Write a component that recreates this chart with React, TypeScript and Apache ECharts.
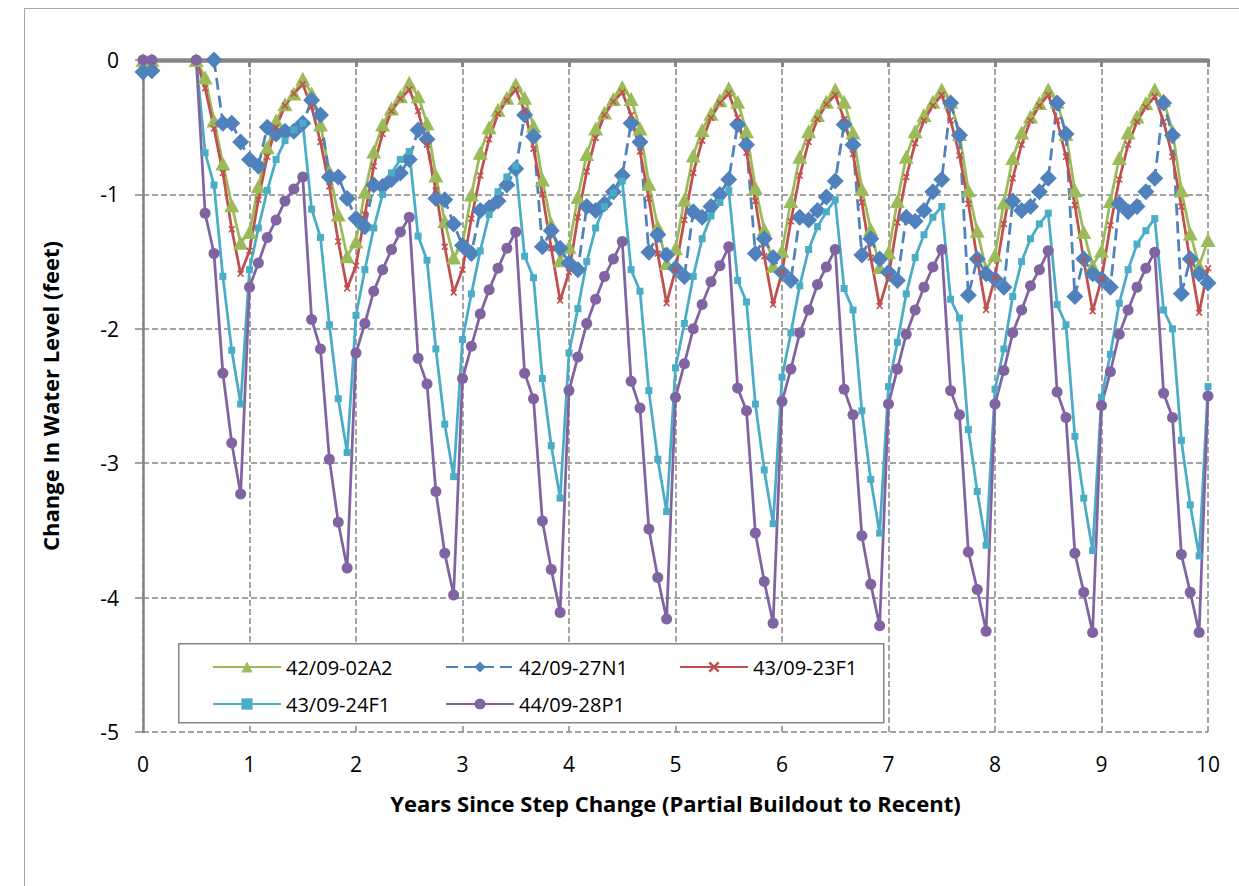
import React, { useEffect, useRef } from "react";
import * as echarts from "echarts";

// x positions are monthly samples: index i -> i/12 years
const MONTHS_PER_YEAR = 12;

const seriesNames = ["42/09-02A2", "42/09-27N1", "43/09-23F1", "43/09-24F1", "44/09-28P1"];

const xTicks = [0, 1, 2, 3, 4, 5, 6, 7, 8, 9, 10];
const yTicks = [-5, -4, -3, -2, -1, 0];

const green02A2: (number | null)[] = [
  0, 0, null, null, null, null, 0, -0.13, -0.45, -0.77, -1.08, -1.36,
  -1.28, -0.94, -0.65, -0.45, -0.33, -0.25, -0.14, -0.25, -0.48, -0.83, -1.15, -1.46,
  -1.35, -0.98, -0.68, -0.48, -0.36, -0.27, -0.17, -0.27, -0.47, -0.86, -1.2, -1.47,
  -1.37, -1.0, -0.69, -0.5, -0.37, -0.28, -0.18, -0.28, -0.49, -0.89, -1.22, -1.49,
  -1.39, -1.02, -0.7, -0.51, -0.39, -0.29, -0.2, -0.29, -0.51, -0.92, -1.24, -1.51,
  -1.4, -1.04, -0.71, -0.52, -0.4, -0.3, -0.21, -0.31, -0.53, -0.95, -1.26, -1.53,
  -1.42, -1.05, -0.72, -0.53, -0.41, -0.31, -0.22, -0.31, -0.54, -0.96, -1.26, -1.54,
  -1.43, -1.05, -0.72, -0.53, -0.41, -0.31, -0.22, -0.31, -0.55, -0.97, -1.27, -1.56,
  -1.45, -1.06, -0.73, -0.54, -0.42, -0.32, -0.22, -0.31, -0.55, -0.97, -1.28, -1.53,
  -1.42, -1.05, -0.73, -0.54, -0.42, -0.32, -0.22, -0.3, -0.53, -0.97, -1.29, -1.53,
  -1.34,
];

const blue27N1: (number | null)[] = [
  -0.09, -0.08, null, null, null, null, null, null, 0, -0.47, -0.47, -0.61,
  -0.74, -0.79, -0.5, -0.55, -0.53, -0.53, -0.47, -0.3, -0.41, -0.87, -0.87, -1.03,
  -1.18, -1.24, -0.93, -0.94, -0.89, -0.84, -0.74, -0.52, -0.59, -1.03, -1.04, -1.22,
  -1.38, -1.44, -1.12, -1.1, -1.05, -0.93, -0.81, -0.41, -0.57, -1.39, -1.27, -1.4,
  -1.51, -1.56, -1.09, -1.12, -1.07, -0.98, -0.86, -0.47, -0.61, -1.43, -1.3, -1.45,
  -1.55, -1.61, -1.13, -1.17, -1.09, -1.0, -0.89, -0.48, -0.63, -1.44, -1.33, -1.47,
  -1.58, -1.64, -1.17, -1.19, -1.12, -1.02, -0.9, -0.48, -0.63, -1.45, -1.33, -1.48,
  -1.58, -1.64, -1.17, -1.2, -1.12, -0.98, -0.89, -0.32, -0.56, -1.75, -1.48, -1.59,
  -1.63, -1.69, -1.05, -1.12, -1.09, -0.98, -0.88, -0.32, -0.55, -1.76, -1.48, -1.59,
  -1.63, -1.69, -1.07, -1.13, -1.09, -0.98, -0.88, -0.32, -0.56, -1.74, -1.48, -1.59,
  -1.66,
];

const red23F1: (number | null)[] = [
  null, null, null, null, null, null, 0, -0.21, -0.51, -0.84, -1.26, -1.59,
  -1.42, -1.04, -0.72, -0.5, -0.34, -0.25, -0.18, -0.35, -0.61, -0.94, -1.35, -1.7,
  -1.53, -1.15, -0.79, -0.55, -0.38, -0.29, -0.22, -0.38, -0.63, -0.97, -1.39, -1.73,
  -1.56, -1.18, -0.86, -0.59, -0.4, -0.3, -0.22, -0.38, -0.66, -1.0, -1.4, -1.79,
  -1.58, -1.17, -0.83, -0.58, -0.41, -0.31, -0.24, -0.41, -0.68, -1.03, -1.44, -1.81,
  -1.56, -1.19, -0.84, -0.6, -0.43, -0.32, -0.25, -0.43, -0.69, -1.05, -1.46, -1.82,
  -1.58, -1.2, -0.86, -0.61, -0.44, -0.33, -0.26, -0.44, -0.7, -1.06, -1.47, -1.83,
  -1.61, -1.21, -0.87, -0.62, -0.45, -0.34, -0.26, -0.45, -0.71, -1.07, -1.48, -1.86,
  -1.62, -1.22, -0.88, -0.63, -0.45, -0.34, -0.26, -0.45, -0.72, -1.08, -1.49, -1.87,
  -1.63, -1.23, -0.89, -0.63, -0.46, -0.35, -0.27, -0.46, -0.72, -1.09, -1.5, -1.88,
  -1.55,
];

const teal24F1: (number | null)[] = [
  null, null, null, null, null, null, 0, -0.69, -0.93, -1.61, -2.16, -2.56,
  -1.56, -1.25, -0.97, -0.74, -0.6, -0.52, -0.47, -1.11, -1.32, -1.97, -2.52, -2.92,
  -1.9, -1.56, -1.25, -1.0, -0.84, -0.74, -0.68, -1.31, -1.49, -2.15, -2.71, -3.1,
  -2.08, -1.74, -1.42, -1.15, -0.98, -0.87, -0.79, -1.46, -1.62, -2.37, -2.87, -3.26,
  -2.18, -1.85, -1.5, -1.25, -1.09, -0.99, -0.9, -1.56, -1.72, -2.46, -2.97, -3.36,
  -2.29, -1.96, -1.61, -1.33, -1.16, -1.06, -0.97, -1.64, -1.8, -2.56, -3.05, -3.45,
  -2.36, -2.03, -1.68, -1.41, -1.24, -1.13, -1.04, -1.7, -1.86, -2.61, -3.12, -3.52,
  -2.43, -2.1, -1.74, -1.47, -1.3, -1.17, -1.09, -1.78, -1.92, -2.75, -3.21, -3.61,
  -2.45, -2.15, -1.76, -1.5, -1.33, -1.22, -1.14, -1.82, -1.97, -2.8, -3.26, -3.65,
  -2.51, -2.19, -1.81, -1.56, -1.37, -1.27, -1.18, -1.86, -2.0, -2.83, -3.31, -3.69,
  -2.43,
];

const purple28P1: (number | null)[] = [
  0, 0, null, null, null, null, 0, -1.14, -1.44, -2.33, -2.85, -3.23,
  -1.69, -1.51, -1.32, -1.19, -1.05, -0.96, -0.87, -1.93, -2.15, -2.97, -3.44, -3.78,
  -2.18, -1.96, -1.72, -1.56, -1.41, -1.28, -1.17, -2.22, -2.41, -3.21, -3.67, -3.98,
  -2.37, -2.13, -1.89, -1.71, -1.55, -1.4, -1.28, -2.33, -2.52, -3.43, -3.79, -4.11,
  -2.46, -2.21, -1.96, -1.78, -1.61, -1.48, -1.35, -2.39, -2.59, -3.49, -3.85, -4.16,
  -2.51, -2.26, -2.0, -1.82, -1.65, -1.53, -1.39, -2.44, -2.61, -3.52, -3.88, -4.19,
  -2.54, -2.3, -2.03, -1.86, -1.67, -1.54, -1.41, -2.45, -2.64, -3.54, -3.9, -4.21,
  -2.56, -2.3, -2.04, -1.86, -1.69, -1.54, -1.41, -2.46, -2.64, -3.66, -3.94, -4.25,
  -2.56, -2.31, -2.03, -1.86, -1.68, -1.56, -1.42, -2.47, -2.66, -3.67, -3.96, -4.26,
  -2.57, -2.32, -2.04, -1.86, -1.69, -1.55, -1.43, -2.48, -2.66, -3.68, -3.96, -4.26,
  -2.5,
];

const FONT = "'Open Sans', Lato, 'Liberation Sans', sans-serif";
const GRAY = "#868686";

const toPairs = (vals: (number | null)[]) =>
  vals.map((v, i) => [i / MONTHS_PER_YEAR, v === null ? null : v]);

const X_SYMBOL =
  "path://M0,1.6L1.6,0L5,3.4L8.4,0L10,1.6L6.6,5L10,8.4L8.4,10L5,6.6L1.6,10L0,8.4L3.4,5Z";

export default function App() {
  const ref = useRef<HTMLDivElement>(null);

  useEffect(() => {
    if (!ref.current) return;
    const chart = echarts.init(ref.current, undefined, { renderer: "svg" });

    const mk = (
      name: string,
      vals: (number | null)[],
      color: string,
      symbol: string,
      symbolSize: number | number[],
      dashed = false
    ) => ({
      name,
      type: "line",
      data: toPairs(vals),
      xAxisIndex: 0,
      yAxisIndex: 0,
      symbol,
      symbolSize,
      showSymbol: true,
      showAllSymbol: true,
      connectNulls: false,
      lineStyle: { color, width: 2.75, type: dashed ? [12, 6] : "solid" },
      itemStyle: { color, borderWidth: 0 },
      emphasis: { disabled: true },
      animation: false,
    });

    const legendBase = (name: string, left: number, top: number) => ({
      data: [name],
      left,
      top,
      itemWidth: 68,
      itemHeight: 14,
      selectedMode: false,
      textStyle: { fontSize: 20, color: "#000", fontFamily: FONT },
    });

    const option: any = {
      animation: false,
      backgroundColor: "#fff",
      textStyle: { fontFamily: FONT },
      grid: { left: 143, top: 60, width: 1065, height: 672 },
      xAxis: [
        {
          type: "value",
          min: xTicks[0],
          max: xTicks[xTicks.length - 1],
          interval: 1,
          position: "bottom",
          axisLine: { show: false, onZero: false },
          axisTick: { show: false },
          axisLabel: { fontSize: 21, color: "#000", margin: 21, fontFamily: FONT },
          splitLine: { show: true, lineStyle: { type: [6, 3], color: GRAY, width: 1.5 } },
          name: "Years Since Step Change (Partial Buildout to Recent)",
          nameLocation: "middle",
          nameGap: 60,
          nameTextStyle: { fontWeight: "bold", fontSize: 22, color: "#000", fontFamily: FONT },
        },
        {
          type: "value",
          min: xTicks[0],
          max: xTicks[xTicks.length - 1],
          interval: 1,
          position: "top",
          axisLine: { show: true, onZero: false, lineStyle: { color: GRAY, width: 4.5 } },
          axisTick: { show: true, inside: true, length: 7, lineStyle: { color: GRAY, width: 3 } },
          axisLabel: { show: false },
          splitLine: { show: false },
        },
      ],
      yAxis: {
        type: "value",
        min: yTicks[0],
        max: yTicks[yTicks.length - 1],
        interval: 1,
        axisLine: { show: true, onZero: false, lineStyle: { color: GRAY, width: 2.5 } },
        axisTick: { show: true, length: 8, lineStyle: { color: GRAY, width: 1.5 } },
        axisLabel: { fontSize: 21, color: "#000", margin: 24, fontFamily: FONT },
        splitLine: { show: true, lineStyle: { type: [6, 3], color: GRAY, width: 1.5 } },
        name: "Change In Water Level (feet)",
        nameLocation: "middle",
        nameGap: 82,
        nameRotate: 90,
        nameTextStyle: { fontWeight: "bold", fontSize: 22, color: "#000", fontFamily: FONT },
      },
      legend: [
        legendBase(seriesNames[0], 207, 652),
        legendBase(seriesNames[1], 440, 652),
        legendBase(seriesNames[2], 674, 652),
        legendBase(seriesNames[3], 207, 689),
        legendBase(seriesNames[4], 440, 689),
      ],
      graphic: [
        {
          type: "rect",
          left: 22,
          top: 6,
          z: -1,
          silent: true,
          shape: { width: 1240, height: 900 },
          style: { fill: "none", stroke: "#A6A6A6", lineWidth: 1 },
        },
        {
          type: "rect",
          left: 178,
          top: 643,
          z: 3,
          silent: true,
          shape: { width: 705, height: 79 },
          style: { fill: "#fff", stroke: GRAY, lineWidth: 1.5 },
        },
      ],
      series: [
        mk(seriesNames[0], green02A2, "#9BBB59", "triangle", [15, 14]),
        mk(seriesNames[1], blue27N1, "#4F81BD", "diamond", [17, 17], true),
        mk(seriesNames[2], red23F1, "#C0504D", X_SYMBOL, 7),
        mk(seriesNames[3], teal24F1, "#4BACC6", "rect", 7),
        mk(seriesNames[4], purple28P1, "#8064A2", "circle", 11),
      ],
    };

    chart.setOption(option);
    return () => chart.dispose();
  }, []);

  return (
    <div
      ref={ref}
      style={{ position: "absolute", left: 0, top: 0, width: 1239, height: 886, background: "#fff" }}
    />
  );
}
